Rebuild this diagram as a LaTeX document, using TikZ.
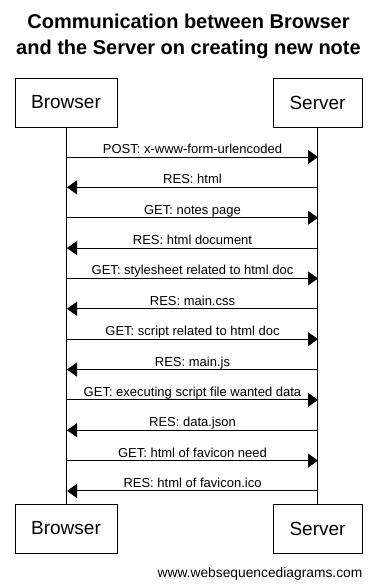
\documentclass[tikz,border=0pt]{standalone}
\usepackage{fontspec}
\setmainfont{Liberation Sans}
\usetikzlibrary{arrows.meta}
\tikzset{every node/.style={font=\fontsize{13}{15}\selectfont}}
\colorlet{linecol}{black}
\colorlet{textcol}{black}
\tikzset{
  actor/.style={draw=linecol, line width=1pt, inner sep=0pt,
    minimum height=49pt, font=\fontsize{19}{22}\selectfont, text=textcol},
  msg/.style={anchor=base, yshift=3.5pt, inner sep=0pt, text=textcol}
}

\begin{document}
\begin{tikzpicture}[x=1pt, y=-1pt, >={Triangle[length=10pt, width=14pt]}]
  \useasboundingbox (0,0) rectangle (377,587);

  % Title.
  \node[font=\fontsize{20}{26}\selectfont\bfseries, align=center, inner sep=0pt]
    (title) at (188.5,36) {Communication between Browser\\and the Server on creating new note};

  % Participants, top and bottom.
  \node[actor, minimum width=102pt] (browserTop) at (66,102.5) {Browser};
  \node[actor, minimum width=89pt] (serverTop) at (317.5,102.5) {Server};
  \node[actor, minimum width=102pt] (browserBot) at (66,528.5) {Browser};
  \node[actor, minimum width=89pt] (serverBot) at (317.5,528.5) {Server};

  % Lifelines.
  \draw[line width=1pt, linecol] (browserTop) -- (browserBot);
  \draw[line width=1pt, linecol] (serverTop) -- (serverBot);

  % Messages, odd ones go to the server, even ones come back.
  \foreach \lbl [count=\k] in {{POST: x-www-form-urlencoded}, {RES: html},
      {GET: notes page}, {RES: html document},
      {GET: stylesheet related to html doc}, {RES: main.css},
      {GET: script related to html doc}, {RES: main.js},
      {GET: executing script file wanted data}, {RES: data.json},
      {GET: html of favicon need}, {RES: html of favicon.ico}} {
    \pgfmathsetmacro\ypos{157+(\k-1)*30.36}
    \coordinate (b\k) at (67,\ypos);
    \coordinate (s\k) at (318,\ypos);
    \ifodd\k
      \draw[->, line width=1pt, linecol] (b\k) -- node[msg] {\lbl} (s\k);
    \else
      \draw[->, line width=1pt, linecol] (s\k) -- node[msg] {\lbl} (b\k);
    \fi
  }

  % Footer.
  \node[font=\fontsize{13.8}{16}\selectfont, anchor=base, inner sep=0pt]
    (footer) at (260,577) {www.websequencediagrams.com};

\end{tikzpicture}
\end{document}
